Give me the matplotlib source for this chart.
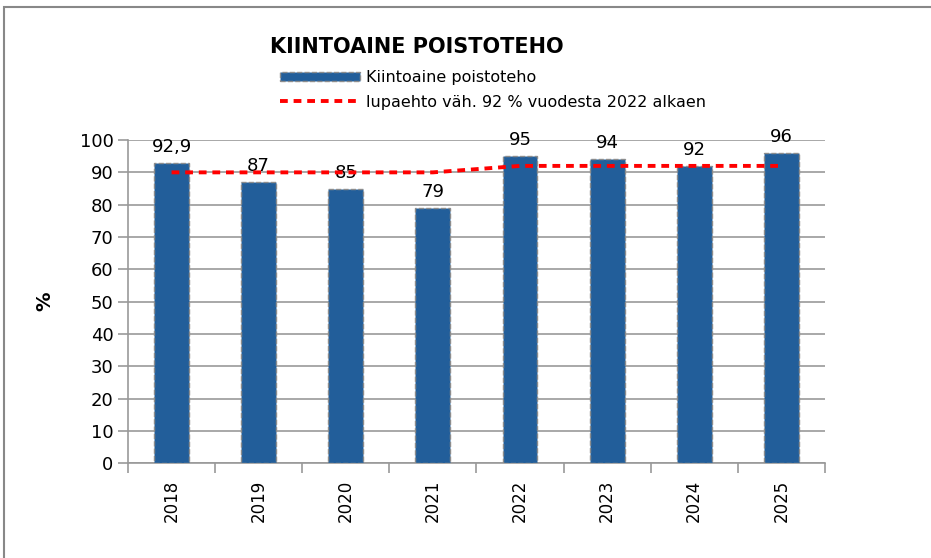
import numpy as np
import matplotlib.pyplot as plt
from matplotlib.patches import Rectangle

years = ['2018', '2019', '2020', '2021', '2022', '2023', '2024', '2025']
poistoteho = [92.9, 87, 85, 79, 95, 94, 92, 96]
lupaehto = [90, 90, 90, 90, 92, 92, 92, 92]
labels = ['92,9', '87', '85', '79', '95', '94', '92', '96']

plt.rcParams['font.family'] = ['DejaVu Sans']

fig = plt.figure(figsize=(9.31, 5.58), dpi=100)
ax = fig.add_axes([0.1375, 0.170, 0.7485, 0.579])

x = np.arange(len(years))
bars = ax.bar(x, poistoteho, width=0.4, color='#225E9A', edgecolor='#8c8c8c',
              linewidth=1, linestyle='--', label='Kiintoaine poistoteho', zorder=3)
line, = ax.plot(x, lupaehto, color='#ff0000', linestyle=(0, (2, 1.5)), linewidth=2.8,
                label='lupaehto väh. 92 % vuodesta 2022 alkaen', zorder=4)

for xi, v, t in zip(x, poistoteho, labels):
    ax.annotate(t, (xi, v), xytext=(0, 5), textcoords='offset points',
                ha='center', va='bottom', fontsize=13)

ax.set_xlim(-0.5, len(years) - 0.5)
ax.set_ylim(0, 100)
ax.set_yticks(np.arange(0, 101, 10))
ax.yaxis.grid(True, color='#999999', linewidth=1.2, zorder=0)
ax.set_xticks(x)
ax.set_xticklabels(years, rotation=90, fontsize=12)
ax.set_xticks(np.arange(-0.5, len(years)), minor=True)
ax.tick_params(axis='x', which='major', length=0, pad=12)
ax.tick_params(axis='x', which='minor', length=7, color='#999999', width=1.2)
ax.tick_params(axis='y', length=7, color='#999999', width=1.2, labelsize=13)
for s in ['top', 'right']:
    ax.spines[s].set_visible(False)
for s in ['left', 'bottom']:
    ax.spines[s].set_color('#999999')
    ax.spines[s].set_linewidth(1.2)
ax.set_ylabel('%', fontsize=14, fontweight='bold', labelpad=18)

fig.text(0.29, 0.915, 'KIINTOAINE POISTOTEHO', fontsize=15, fontweight='bold',
         ha='left', va='center')
fig.legend([bars, line], [bars.get_label(), line.get_label()],
           loc='upper left', bbox_to_anchor=(280 / 931, 1 - 70 / 558), frameon=False,
           fontsize=11.5, handlelength=5.0, handleheight=0.5, borderaxespad=0,
           borderpad=0, labelspacing=0.6, handletextpad=0.4)

fig.patches.append(Rectangle((4 / 931, -0.1), 2, 1.1 - 7 / 558, transform=fig.transFigure,
                             fill=False, edgecolor='#888888', linewidth=1.5))

fig.savefig('out.png', dpi=100)
